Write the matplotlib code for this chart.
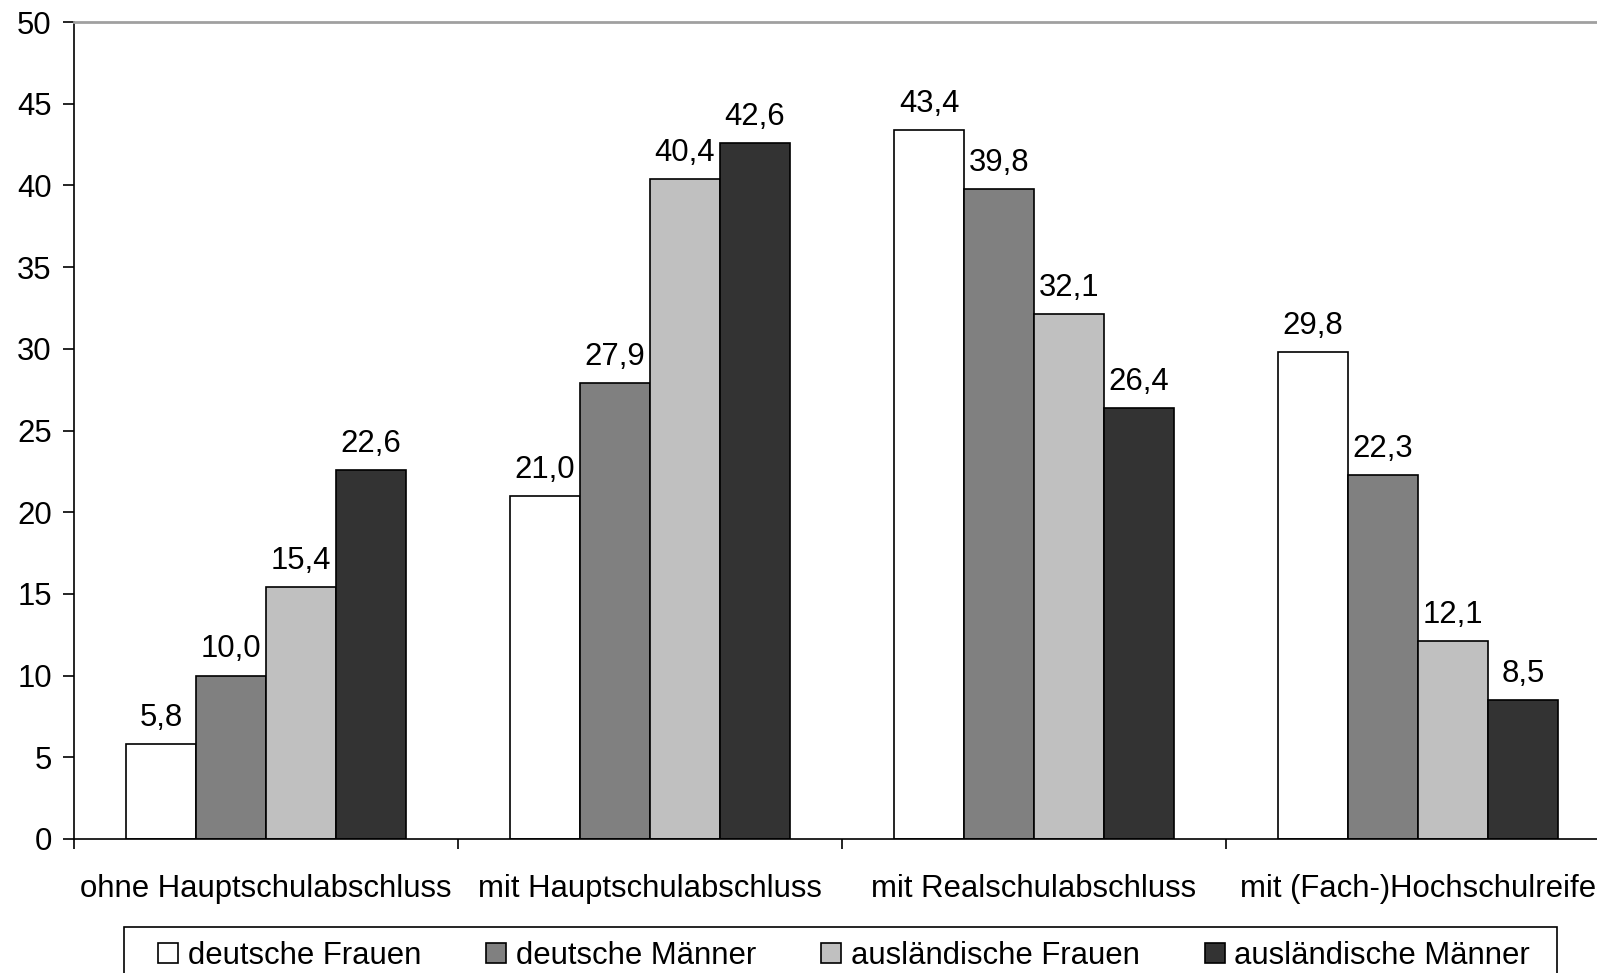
import numpy as np
import matplotlib
matplotlib.use("Agg")
import matplotlib.pyplot as plt
from matplotlib.patches import Rectangle

plt.rcParams['font.family'] = ['Liberation Sans', 'DejaVu Sans']

# Data
categories = ["ohne Hauptschulabschluss", "mit Hauptschulabschluss",
              "mit Realschulabschluss", "mit (Fach-)Hochschulreife"]
series_names = ["deutsche Frauen", "deutsche Männer",
                "ausländische Frauen", "ausländische Männer"]
deutsche_frauen = [5.8, 21.0, 43.4, 29.8]
deutsche_maenner = [10.0, 27.9, 39.8, 22.3]
auslaendische_frauen = [15.4, 40.4, 32.1, 12.1]
auslaendische_maenner = [22.6, 42.6, 26.4, 8.5]
y_ticks = [0, 5, 10, 15, 20, 25, 30, 35, 40, 45, 50]

series = [deutsche_frauen, deutsche_maenner, auslaendische_frauen, auslaendische_maenner]
colors = ["#ffffff", "#808080", "#c0c0c0", "#333333"]

W, H = 1597, 973
fig = plt.figure(figsize=(W / 100, H / 100), dpi=100)
ax = fig.add_axes([74 / W, 1 - 839 / H, 1536 / W, (839 - 22) / H])

x = np.arange(len(categories))
bw = 70 / 384
fs = 22.4

for i, (vals, col) in enumerate(zip(series, colors)):
    pos = x + (i - 1.5) * bw
    bars = ax.bar(pos, vals, width=bw, color=col, edgecolor="black", linewidth=1.2,
                  label=series_names[i], zorder=2)
    for b, v in zip(bars, vals):
        ax.annotate(f"{v:.1f}".replace(".", ","),
                    (b.get_x() + b.get_width() / 2, b.get_height()),
                    xytext=(0, 8), textcoords="offset points",
                    ha="center", va="bottom", fontsize=fs)

ax.set_xlim(-0.5, 3.5)
ax.set_ylim(0, 50)
ax.set_yticks(y_ticks)
ax.set_yticklabels([str(t) for t in y_ticks], fontsize=fs)

# group boundary ticks, labels on minor ticks
ax.set_xticks(np.arange(-0.5, 3.6, 1.0))
ax.set_xticklabels([])
ax.set_xticks(x, minor=True)
ax.set_xticklabels(categories, minor=True, fontsize=fs)
ax.tick_params(axis="x", which="major", direction="out", length=7, width=1.2)
ax.tick_params(axis="x", which="minor", length=0, pad=25)
ax.tick_params(axis="y", direction="out", length=8, width=1.2, pad=8)

ax.spines["right"].set_visible(False)
ax.spines["top"].set_color("#a0a0a0")
ax.spines["top"].set_linewidth(2)
ax.spines["left"].set_linewidth(1.2)
ax.spines["bottom"].set_linewidth(1.2)

# legend frame (bottom runs off the figure)
fig.patches.append(Rectangle((124 / W, -0.05), (1557 - 124) / W, 0.05 + 1 - 927 / H,
                             transform=fig.transFigure, fill=False,
                             edgecolor="black", linewidth=1.2))
fig.legend(loc="center", bbox_to_anchor=(158 / W, 1 - 956 / H, (1530 - 158) / W, 0),
           mode="expand", ncol=4, frameon=False, fontsize=fs,
           handlelength=0.65, handleheight=0.65, handletextpad=0.3,
           borderpad=0, borderaxespad=0)

fig.savefig("out.png", dpi=100)
